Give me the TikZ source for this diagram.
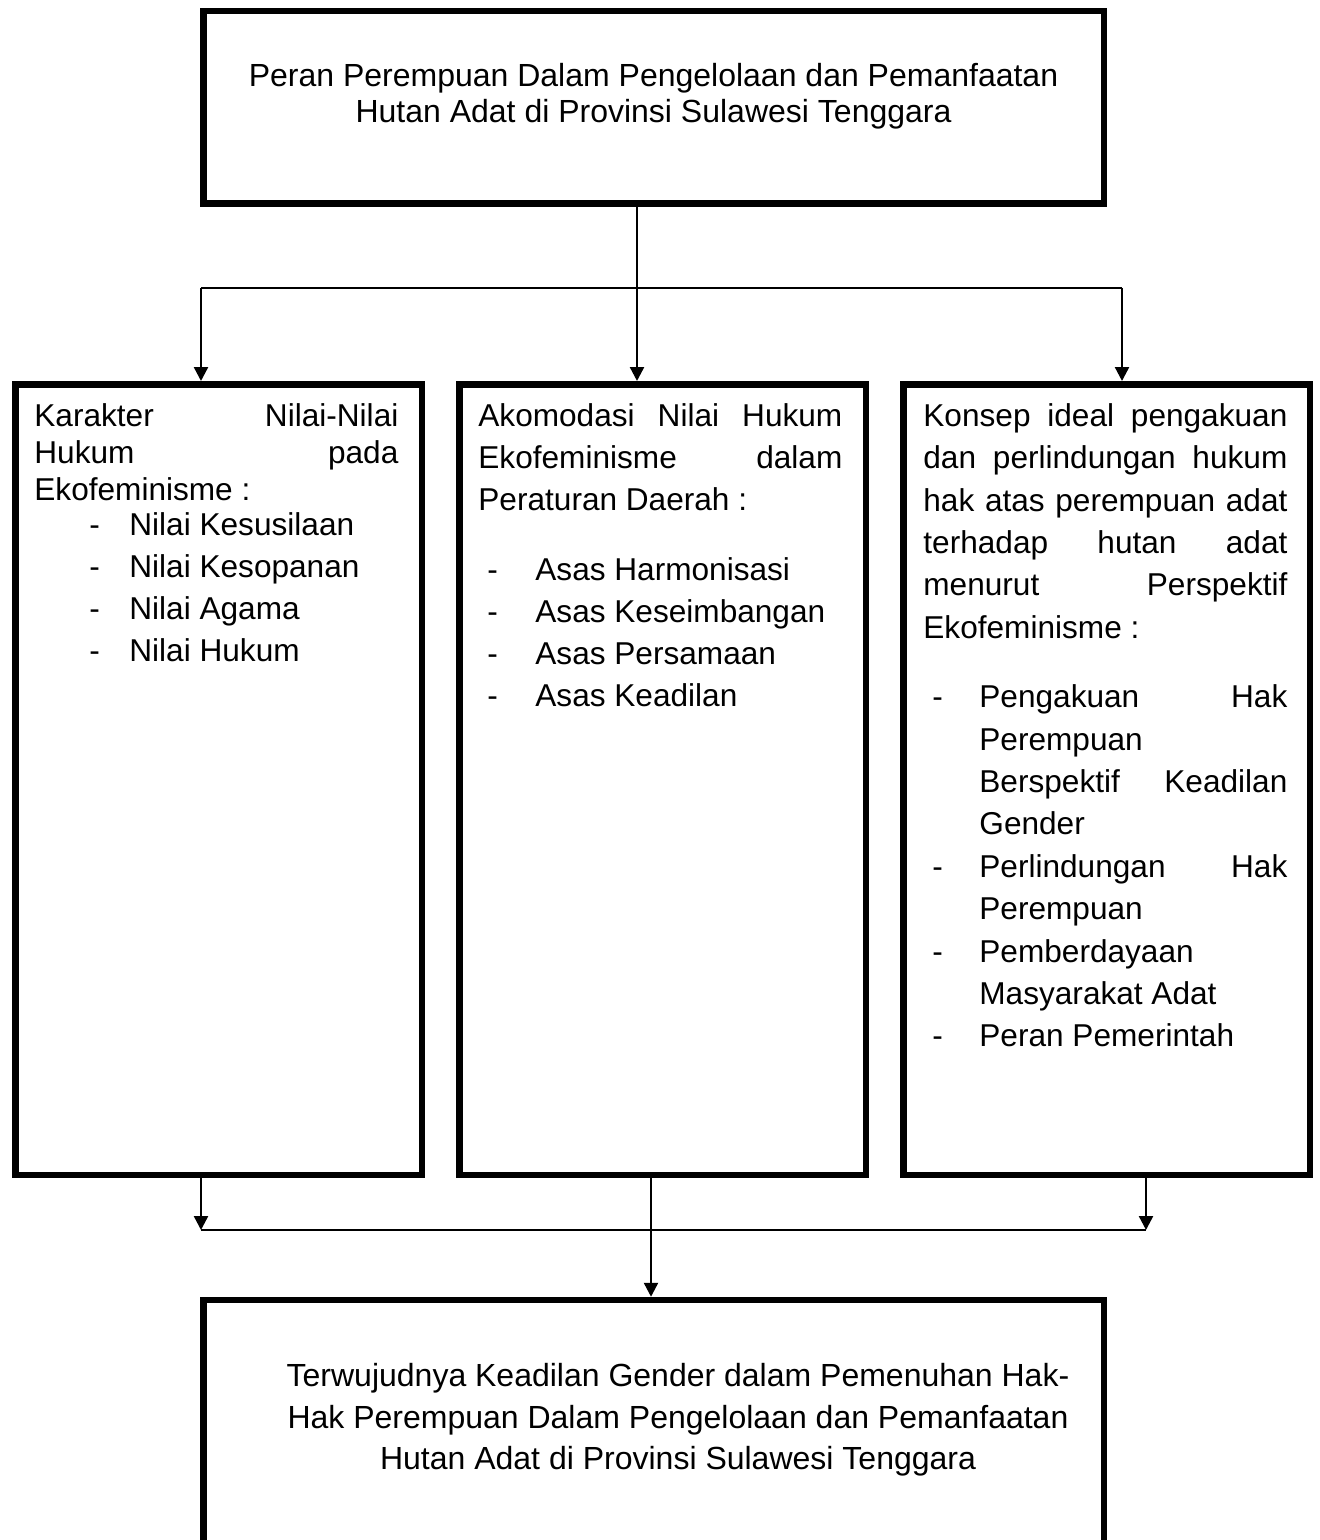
\documentclass[tikz,border=0pt]{standalone}
\usepackage{fontspec}
\setmainfont{Liberation Sans}
\usepackage{tikz}
\usetikzlibrary{arrows.meta,positioning,calc}
\tikzstyle{box}=[draw,line width=3.25pt,inner sep=0pt]
\tikzstyle{txt}=[inner sep=0pt,align=left,font=\fontsize{15.8}{21}\selectfont]
\tikzstyle{arr}=[line width=1.2pt,-{Triangle[length=7pt,width=7pt]}]
\newcommand{\jl}[2][182pt]{\makebox[#1][s]{#2}}
\newcommand{\itm}[3]{\makebox[#2][l]{\hspace*{#1}-}#3}
\begin{document}
\begin{tikzpicture}
  [x=0.5pt,y=-0.5pt]
\useasboundingbox (0,0) rectangle (1320,1540);
\clip (0,0) rectangle (1320,1540);
\fill[white] (0,0) rectangle (1320,1540);
\node[box,minimum width=450.25pt,minimum height=96.25pt] (top) at (653.5,107.5) {};
\node[box,minimum width=203.25pt,minimum height=395.25pt] (lft) at (218.5,779.5) {};
\node[box,minimum width=203.25pt,minimum height=395.25pt] (mid) at (662.5,779.5) {};
\node[box,minimum width=203.25pt,minimum height=395.25pt] (rgt) at (1106.5,779.5) {};
\node[box,minimum width=450.25pt,minimum height=130pt] (bot) at (653.5,1430) {};
\node[inner sep=0pt,align=center,font=\fontsize{16}{18}\selectfont] (toptxt) at (653.5,96)
  {Peran Perempuan Dalam Pengelolaan dan Pemanfaatan\\Hutan Adat di Provinsi Sulawesi Tenggara};
\node[inner sep=0pt,align=center,font=\fontsize{16}{20.75}\selectfont] (bottxt) at (678,1420)
  {Terwujudnya Keadilan Gender dalam Pemenuhan Hak-\\Hak Perempuan Dalam Pengelolaan dan Pemanfaatan\\Hutan Adat di Provinsi Sulawesi Tenggara};
\node[txt,anchor=north west] (lfttxt) at ([xshift=11pt,yshift=-11pt]lft.north west)
  {\jl{Karakter Nilai-Nilai}\\[-2.5pt]
   \jl{Hukum pada}\\[-2.5pt]
   Ekofeminisme :\\[-3.5pt]
   \itm{27.5pt}{47.5pt}{Nilai Kesusilaan}\\
   \itm{27.5pt}{47.5pt}{Nilai Kesopanan}\\
   \itm{27.5pt}{47.5pt}{Nilai Agama}\\
   \itm{27.5pt}{47.5pt}{Nilai Hukum}};
\node[txt,anchor=north west] (midtxt) at ([xshift=11pt,yshift=-11pt]mid.north west)
  {\jl{Akomodasi Nilai Hukum}\\
   \jl{Ekofeminisme dalam}\\
   Peraturan Daerah :\\[14pt]
   \itm{4.5pt}{28.5pt}{Asas Harmonisasi}\\
   \itm{4.5pt}{28.5pt}{Asas Keseimbangan}\\
   \itm{4.5pt}{28.5pt}{Asas Persamaan}\\
   \itm{4.5pt}{28.5pt}{Asas Keadilan}};
\node[txt,anchor=north west,font=\fontsize{15.8}{21.2}\selectfont] (rgttxt) at ([xshift=11.5pt,yshift=-11pt]rgt.north west)
  {\jl{Konsep ideal pengakuan}\\
   \jl{dan perlindungan hukum}\\
   \jl{hak atas perempuan adat}\\
   \jl{terhadap hutan adat}\\
   \jl{menurut Perspektif}\\
   Ekofeminisme :\\[13.5pt]
   \itm{4.5pt}{28pt}{\jl[154pt]{Pengakuan Hak}}\\
   \hspace*{28pt}Perempuan\\
   \hspace*{28pt}\jl[154pt]{Berspektif Keadilan}\\
   \hspace*{28pt}Gender\\
   \itm{4.5pt}{28pt}{\jl[154pt]{Perlindungan Hak}}\\
   \hspace*{28pt}Perempuan\\
   \itm{4.5pt}{28pt}{Pemberdayaan}\\
   \hspace*{28pt}Masyarakat Adat\\
   \itm{4.5pt}{28pt}{Peran Pemerintah}};
\coordinate (sp) at (637,288);
\coordinate (bl) at (201,288);
\coordinate (br) at (1122,288);
\coordinate (jl) at (201,1230);
\coordinate (jr) at (1146,1230);
\coordinate (jm) at (651,1230);
\draw[arr] (sp |- top.south) -- (sp |- mid.north);
\draw[line width=1.2pt] (bl) -- (br);
\draw[arr] (bl) -- (bl |- lft.north);
\draw[arr] (br) -- (br |- rgt.north);
\draw[arr] (jl |- lft.south) -- (jl);
\draw[arr] (jr |- rgt.south) -- (jr);
\draw[line width=1.2pt] (jl) -- (jr);
\draw[arr] (jm |- mid.south) -- (jm |- bot.north);
\end{tikzpicture}
\end{document}
